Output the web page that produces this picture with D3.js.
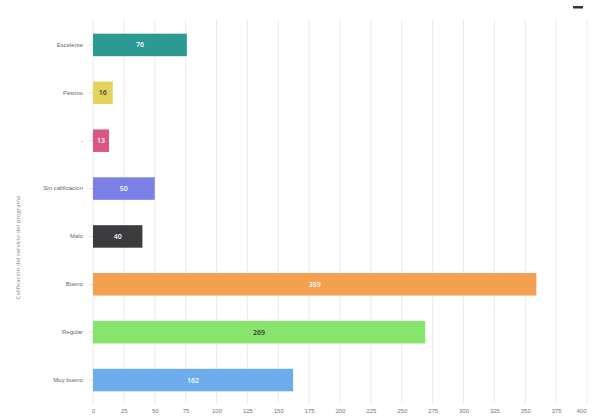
<!DOCTYPE html>
<html>
<head>
<meta charset="utf-8">
<script src="https://cdn.jsdelivr.net/npm/d3@7"></script>
<style>
  html, body { margin: 0; padding: 0; background: #fff; }
  svg { display: block; font-family: "Open Sans", "Noto Sans", sans-serif; }
</style>
</head>
<body>
<div id="chart"></div>
<script>
// Ratings and their counts
const categories = ["Excelente", "Pésimo", "-", "Sin calificación", "Malo", "Bueno", "Regular", "Muy bueno"];
const counts = [76, 16, 13, 50, 40, 359, 269, 162];
const barColors = ["#2a9a92", "#e3d35c", "#dd5683", "#7c80e6", "#3c3c3e", "#f5a04f", "#87e56e", "#6caced"];
const labelColors = ["#ffffff", "#333333", "#ffffff", "#ffffff", "#ffffff", "#ffffff", "#333333", "#ffffff"];
const xTicks = [0, 25, 50, 75, 100, 125, 150, 175, 200, 225, 250, 275, 300, 325, 350, 375, 400];
const yTitle = "Calificación del servicio del programa";

const W = 592, H = 420;
const margin = { top: 21, right: 5, bottom: 16, left: 93 };

const svg = d3.select("#chart").append("svg")
  .attr("width", W).attr("height", H);

const x = d3.scaleLinear().domain([0, 400])
  .range([margin.left, W - margin.right]);
const y = d3.scaleBand().domain(categories)
  .range([margin.top, H - margin.bottom])
  .paddingInner(0.53).paddingOuter(0.265);

// vertical gridlines
svg.append("g")
  .selectAll("line").data(xTicks).join("line")
  .attr("x1", d => x(d)).attr("x2", d => x(d))
  .attr("y1", margin.top - 2).attr("y2", H - margin.bottom)
  .attr("stroke", "#ececec").attr("stroke-width", 1);

// x axis labels
const xAxis = d3.axisBottom(x).tickValues(xTicks).tickSize(0).tickPadding(5);
const gx = svg.append("g")
  .attr("transform", `translate(0,${H - margin.bottom})`)
  .call(xAxis);
gx.select(".domain").remove();
gx.selectAll("text").attr("fill", "#777").attr("font-size", 6);
// keep the last label inside the page
gx.selectAll(".tick").filter(d => d === 400).select("text")
  .attr("text-anchor", "end").attr("x", -1);

// y axis labels
const yAxis = d3.axisLeft(y).tickSize(4).tickPadding(6);
const gy = svg.append("g")
  .attr("transform", `translate(${margin.left},0)`)
  .call(yAxis);
gy.select(".domain").remove();
gy.selectAll("line").attr("stroke", "#e0e0e0");
gy.selectAll("text").attr("fill", "#666").attr("font-size", 6);

// y axis title
svg.append("text")
  .attr("transform", `translate(20,${(margin.top + H - margin.bottom) / 2 + 35}) rotate(-90)`)
  .attr("text-anchor", "middle")
  .attr("font-size", 6).attr("fill", "#888")
  .text(yTitle);

// bars
svg.append("g")
  .selectAll("rect").data(categories).join("rect")
  .attr("x", x(0))
  .attr("y", d => y(d))
  .attr("width", (d, i) => x(counts[i]) - x(0))
  .attr("height", y.bandwidth())
  .attr("fill", (d, i) => barColors[i]);

// value labels
svg.append("g")
  .selectAll("text").data(categories).join("text")
  .attr("x", (d, i) => (x(0) + x(counts[i])) / 2)
  .attr("y", d => y(d) + y.bandwidth() / 2)
  .attr("dy", "0.35em")
  .attr("text-anchor", "middle")
  .attr("font-size", 7).attr("font-weight", 600)
  .attr("fill", (d, i) => labelColors[i])
  .text((d, i) => counts[i]);

// menu marker at top right
svg.append("rect")
  .attr("x", 573).attr("y", 6).attr("width", 10).attr("height", 2.5)
  .attr("fill", "#333");
</script>
</body>
</html>
